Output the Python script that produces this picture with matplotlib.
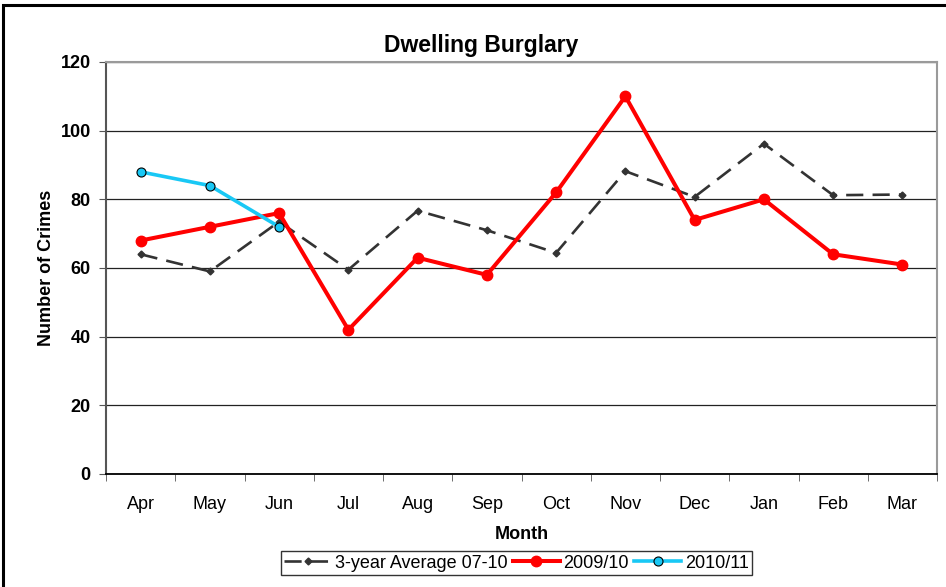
import matplotlib
matplotlib.use("Agg")
import matplotlib.pyplot as plt
from matplotlib.patches import Rectangle
import numpy as np

plt.rcParams['font.family'] = ['Liberation Sans', 'DejaVu Sans']

months = ['Apr', 'May', 'Jun', 'Jul', 'Aug', 'Sep', 'Oct', 'Nov', 'Dec', 'Jan', 'Feb', 'Mar']
avg_07_10 = [64, 59, 73.5, 59.5, 76.7, 71, 64.4, 88.2, 80.7, 96.2, 81.2, 81.4]
y2009_10 = [68, 72, 76, 42, 63, 58, 82, 110, 74, 80, 64, 61]
y2010_11 = [88, 84, 72]

fig = plt.figure(figsize=(9.46, 5.87), dpi=100)
ax = fig.add_axes([106/946, 1-474/587, (937-106)/946, (474-62)/587])

x = np.arange(len(months))
ax.plot(x, avg_07_10, color='#333333', lw=1.9, dashes=(6.5, 3.5),
        marker='D', ms=3.5, label='3-year Average 07-10', zorder=3)
ax.plot(x, y2009_10, color='#ff0000', lw=2.9, marker='o', ms=7.5,
        label='2009/10', zorder=4)
ax.plot(x[:len(y2010_11)], y2010_11, color='#19c8f5', lw=2.6, marker='o', ms=6.5,
        markeredgecolor='black', markeredgewidth=0.8, label='2010/11', zorder=5)

ax.set_xlim(-0.5, len(months) - 0.5)
ax.set_ylim(0, 120)
ax.set_yticks(range(0, 121, 20))
ax.set_xticks(x)
ax.set_xticklabels(months)
ax.set_xticks(np.arange(-0.5, len(months)), minor=True)
ax.tick_params(axis='x', which='major', length=0, pad=16, labelsize=13)
ax.tick_params(axis='x', which='minor', length=5, color='#555555')
ax.tick_params(axis='y', length=5, color='#555555', labelsize=13, pad=6)
for lab in ax.get_yticklabels():
    lab.set_fontweight('bold')

ax.grid(axis='y', color='#222222', lw=0.9)
ax.set_axisbelow(True)
ax.spines['left'].set_color('#555555')
ax.spines['left'].set_linewidth(1.5)
ax.spines['bottom'].set_color('black')
ax.spines['bottom'].set_linewidth(1.3)
ax.spines['top'].set_color('#9a9a9a')
ax.spines['right'].set_color('#9a9a9a')
ax.spines['top'].set_linewidth(1.5)
ax.spines['right'].set_linewidth(1.5)

ax.set_title('Dwelling Burglary', fontsize=16.5, fontweight='bold', pad=7, x=0.452)
ax.set_xlabel('Month', fontsize=13, fontweight='bold', labelpad=9)
ax.set_ylabel('Number of Crimes', fontsize=13, fontweight='bold', labelpad=4)

leg = ax.legend(loc='upper center', bbox_to_anchor=(0.494, -0.187), ncol=3,
                fontsize=13, frameon=True, fancybox=False, edgecolor='black',
                handlelength=2.6, handletextpad=0.2, columnspacing=0.3,
                borderpad=0.2, borderaxespad=0)
leg.get_frame().set_linewidth(1.0)

# outer chart border (only top/left visible in the reference)
fig.patches.append(Rectangle((3/946, -0.1), 1.2, 1.1 - 5/587, transform=fig.transFigure,
                             fill=False, edgecolor='black', lw=2.2))

fig.savefig('out.png', dpi=100)
